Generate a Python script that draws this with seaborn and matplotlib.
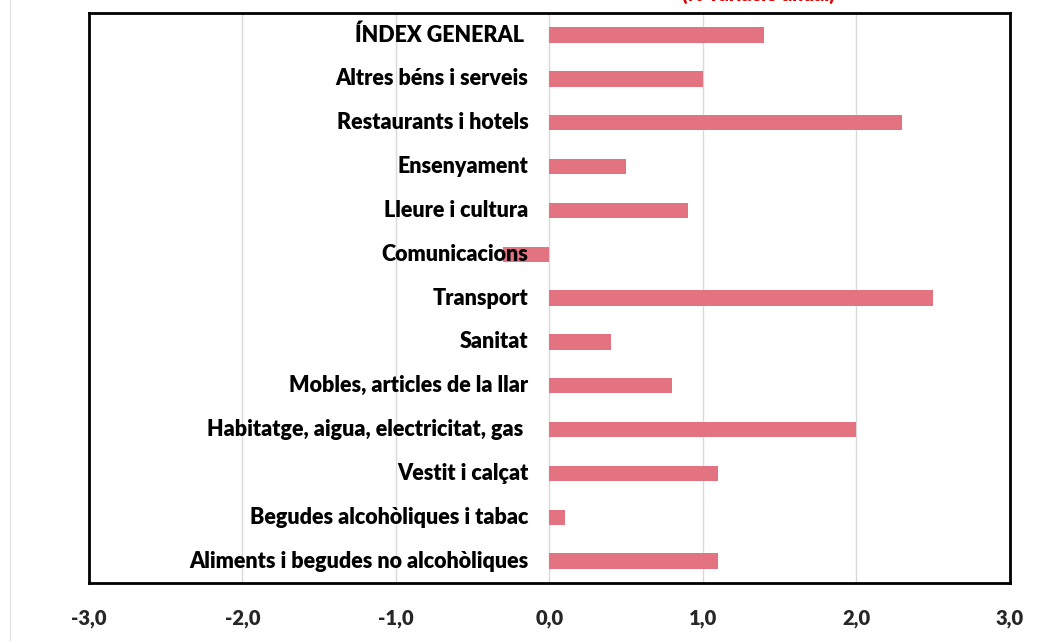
import pandas as pd
import matplotlib
matplotlib.use('Agg')
import matplotlib.pyplot as plt
import seaborn as sns

# Categories from top to bottom, with their annual variation
categories = [
    'ÍNDEX GENERAL ',
    'Altres béns i serveis',
    'Restaurants i hotels',
    'Ensenyament',
    'Lleure i cultura',
    'Comunicacions',
    'Transport',
    'Sanitat',
    'Mobles, articles de la llar',
    'Habitatge, aigua, electricitat, gas ',
    'Vestit i calçat',
    'Begudes alcohòliques i tabac',
    'Aliments i begudes no alcohòliques',
]
values = [1.4, 1.0, 2.3, 0.5, 0.9, -0.3, 2.5, 0.4, 0.8, 2.0, 1.1, 0.1, 1.1]
x_ticks = [-3, -2, -1, 0, 1, 2, 3]
x_tick_labels = ['-3,0', '-2,0', '-1,0', '0,0', '1,0', '2,0', '3,0']

df = pd.DataFrame({'categoria': categories, 'valor': values})

sns.set_style('white')
plt.rcParams['font.family'] = ['Lato', 'DejaVu Sans']

fig = plt.figure(figsize=(10.53, 6.41), dpi=100)
ax = fig.add_axes([0.0845, 0.0905, 0.8746, 0.889])

sns.barplot(data=df, x='valor', y='categoria', order=categories, orient='h',
            color='#E37380', saturation=1, width=0.35, linewidth=0,
            ax=ax, zorder=3)

ax.set_xlim(-3, 3)
ax.set_ylim(len(categories) - 0.5, -0.5)
ax.set_xticks(x_ticks)
ax.set_xticklabels(x_tick_labels, fontsize=14.5, fontweight='heavy')
ax.tick_params(axis='x', length=0, pad=19)
ax.set_yticks([])
ax.set_xlabel('')
ax.set_ylabel('')
for x in x_ticks[1:-1]:
    ax.axvline(x, color='#D9D9D9', lw=1, zorder=1)

# category names sit just left of the zero line, drawn over the bars
for i, cat in enumerate(categories):
    ax.annotate(cat, xy=(0, i), xytext=(-15, 0), textcoords='offset points',
                ha='right', va='center', fontsize=15.5, fontweight='heavy',
                color='black', zorder=5)

for spine in ax.spines.values():
    spine.set_visible(True)
    spine.set_color('black')
    spine.set_linewidth(2)

# clipped red subtitle at the very top
fig.text(0.72, 0.993, '(% variació anual)', color='#E00000', fontsize=14,
         fontweight='heavy', ha='center', va='bottom')
fig.add_artist(plt.Line2D([0.0095, 0.0095], [0, 1], color='#E3E3E3', lw=1))

fig.savefig('out.png', dpi=100)
